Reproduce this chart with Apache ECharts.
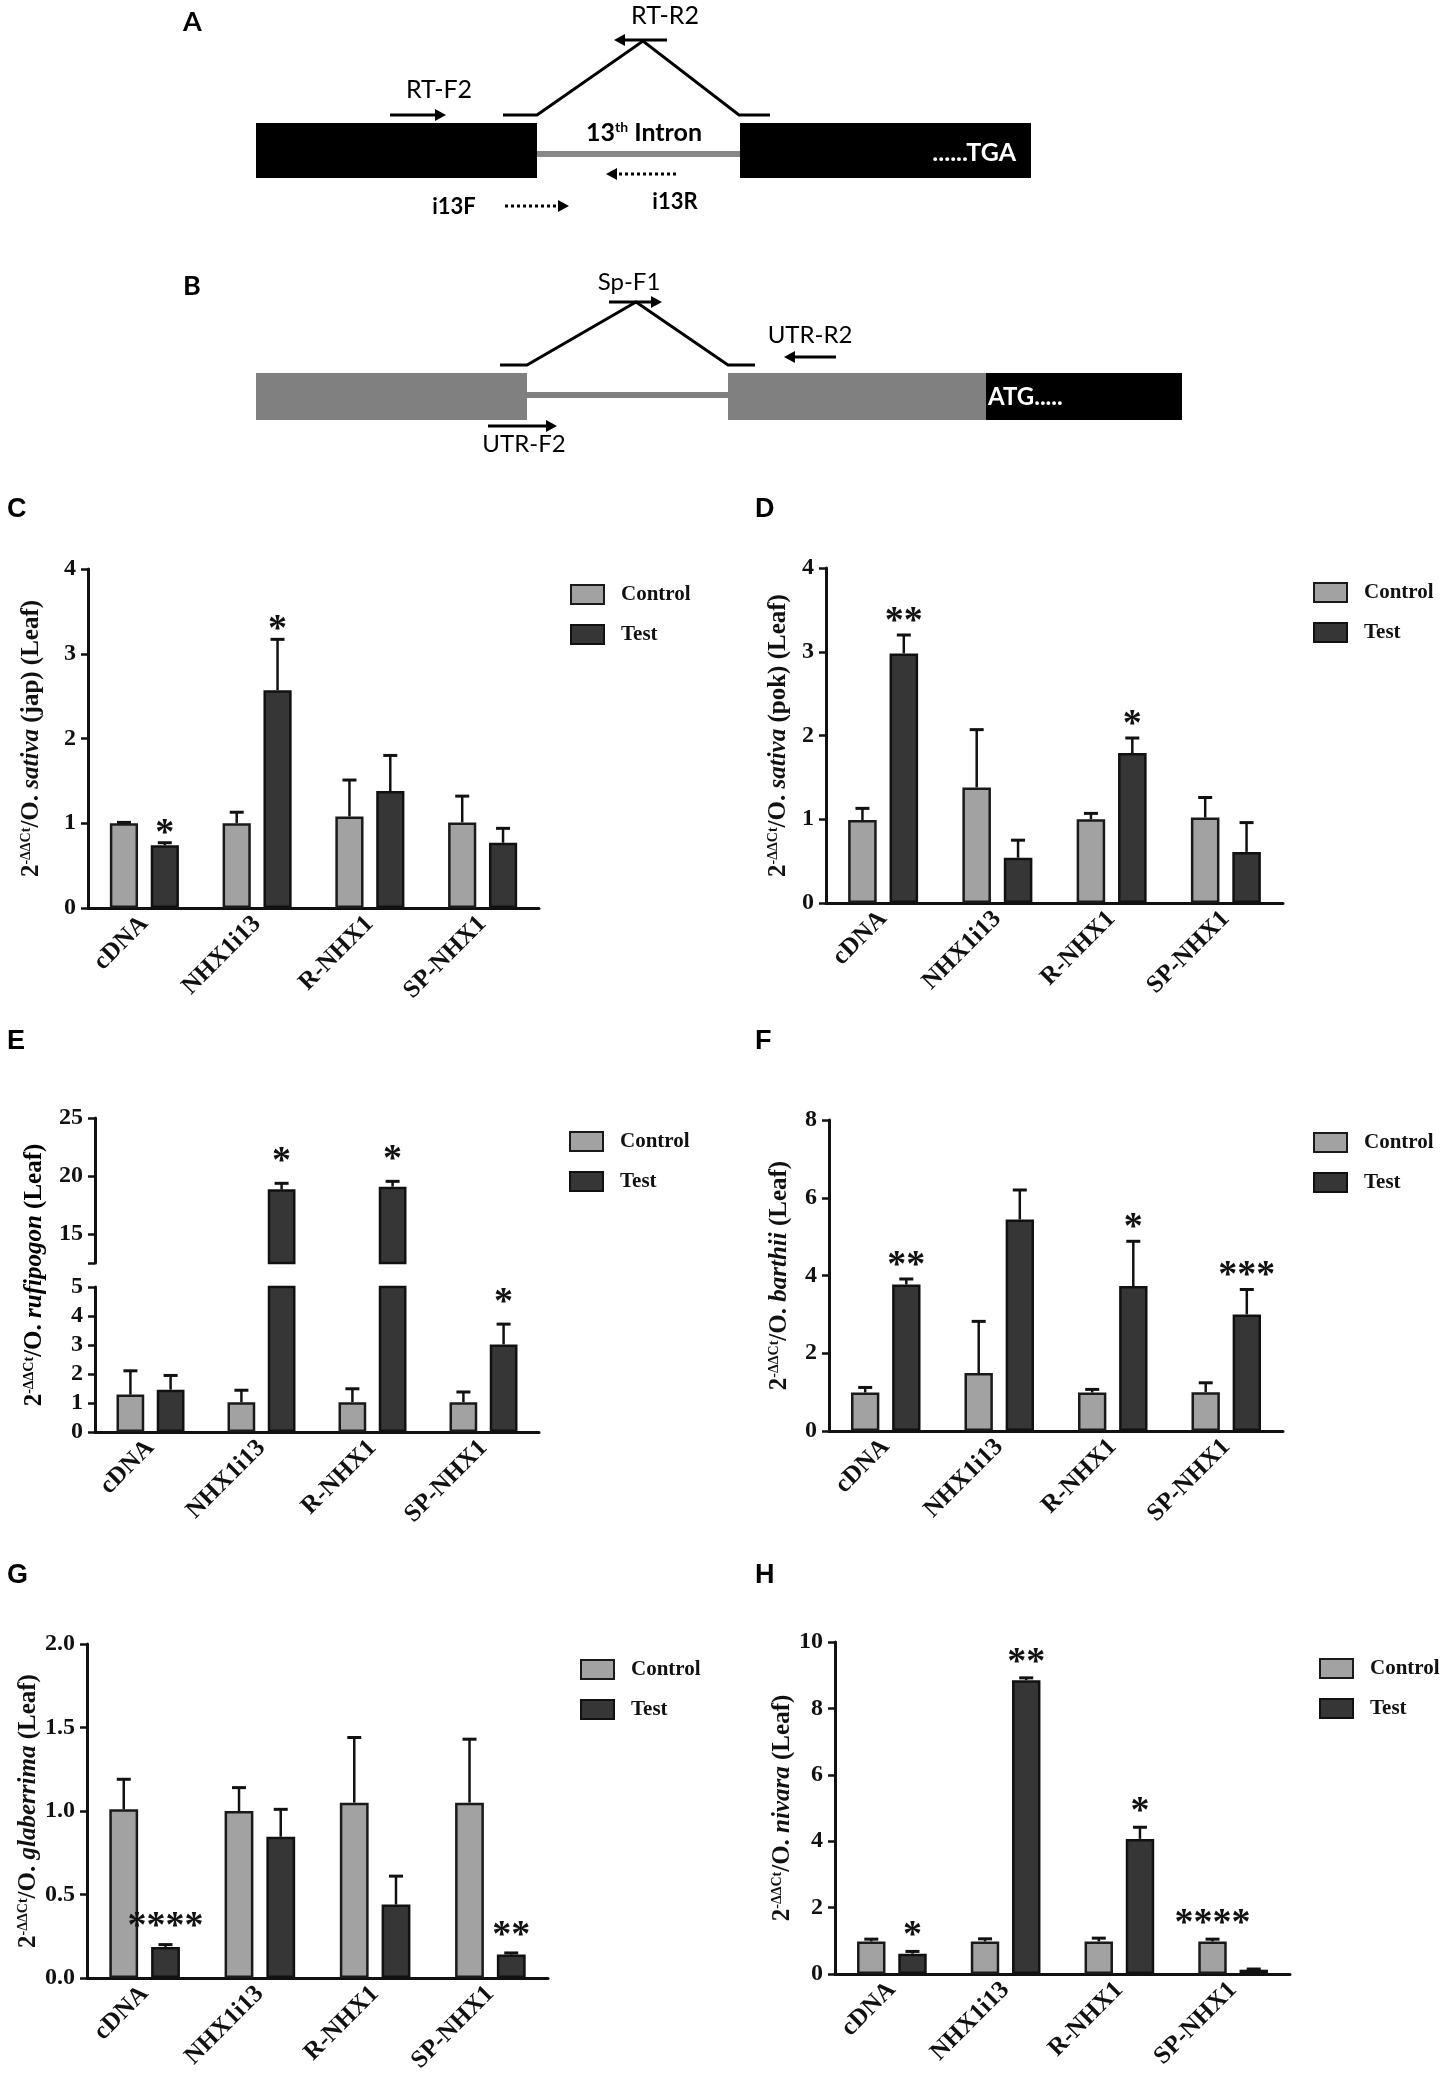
<!DOCTYPE html>
<html>
<head>
<meta charset="utf-8">
<script src="https://cdn.jsdelivr.net/npm/echarts@6/dist/echarts.min.js"></script>
<style>
  html, body { margin: 0; padding: 0; background: #fff; }
  #main { width: 1450px; height: 2079px; }
</style>
</head>
<body>
<div id="main"></div>
<script>
// categories shared by all qPCR panels
const categories = ['cDNA', 'NHX1i13', 'R-NHX1', 'SP-NHX1'];
const noSig = ['', '', '', ''];

// C - O. sativa (jap)
const ctrlC = [1.0, 1.0, 1.08, 1.01];
const ctrlSdC = [0.01, 0.13, 0.43, 0.31];
const testC = [0.74, 2.57, 1.38, 0.77];
const testSdC = [0.03, 0.60, 0.42, 0.17];
const sigTestC = ['*', '*', '', ''];

// D - O. sativa (pok)
const ctrlD = [0.99, 1.38, 1.0, 1.02];
const ctrlSdD = [0.14, 0.69, 0.07, 0.24];
const testD = [2.98, 0.54, 1.79, 0.61];
const testSdD = [0.22, 0.21, 0.18, 0.35];
const sigTestD = ['**', '', '*', ''];

// E - O. rufipogon (broken axis)
const ctrlE = [1.29, 1.03, 1.03, 1.03];
const ctrlSdE = [0.82, 0.41, 0.46, 0.35];
const testE = [1.46, 18.85, 19.08, 3.02];
const testSdE = [0.49, 0.52, 0.46, 0.70];
const sigTestE = ['', '*', '*', '*'];
const upperLabelsE = [15, 20, 25];
const upperTicksE = [12.5, 15, 20, 25];

// F - O. barthii
const ctrlF = [0.99, 1.49, 0.99, 1.0];
const ctrlSdF = [0.13, 1.33, 0.08, 0.24];
const testF = [3.77, 5.44, 3.73, 3.0];
const testSdF = [0.14, 0.76, 1.15, 0.64];
const sigTestF = ['**', '', '*', '***'];

// G - O. glaberrima
const ctrlG = [1.01, 1.0, 1.05, 1.05];
const ctrlSdG = [0.18, 0.14, 0.39, 0.38];
const testG = [0.186, 0.846, 0.44, 0.14];
const testSdG = [0.014, 0.164, 0.17, 0.01];
const sigTestG = ['****', '', '', '**'];

// H - O. nivara
const ctrlH = [0.98, 0.98, 0.98, 0.98];
const ctrlSdH = [0.07, 0.08, 0.10, 0.07];
const testH = [0.61, 8.85, 4.07, 0.13];
const testSdH = [0.07, 0.07, 0.35, 0.02];
const sigCtrlH = ['', '', '', '****'];
const sigTestH = ['*', '**', '*', ''];

const SERIF = "'Liberation Serif', 'Times New Roman', serif";
const SANS = "'Liberation Sans', Arial, sans-serif";
const DIAG = "Lato, 'Open Sans', sans-serif";
const INK = '#111';

function yName(species, tail) {
  return '{n|2}{s|-ΔΔCt}{n|/O. }{i|' + species + '}{n|' + tail + '}';
}
const nameRich = {
  n: { fontFamily: SERIF, fontWeight: 'bold', fontSize: 25, color: INK },
  s: { fontFamily: SERIF, fontWeight: 'bold', fontSize: 14, color: INK, verticalAlign: 'top' },
  i: { fontFamily: SERIF, fontWeight: 'bold', fontStyle: 'italic', fontSize: 25, color: INK }
};

const panels = [
  { label: 'C', labelPos: [7, 510], legend: [570, 584], gap: 16,
    ctrl: ctrlC, ctrlSd: ctrlSdC, test: testC, testSd: testSdC, sig: [noSig, sigTestC],
    name: yName('sativa', ' (jap) (Leaf)'), nameGap: 44,
    parts: [{ grid: { left: 88, top: 569, width: 451, height: 339 }, y: { min: 0, max: 4, interval: 1 }, showX: true }] },
  { label: 'D', labelPos: [755, 510], legend: [1313, 582], gap: 20,
    ctrl: ctrlD, ctrlSd: ctrlSdD, test: testD, testSd: testSdD, sig: [noSig, sigTestD],
    name: yName('sativa', ' (pok) (Leaf)'), nameGap: 35,
    parts: [{ grid: { left: 826, top: 568, width: 457, height: 335 }, y: { min: 0, max: 4, interval: 1 }, showX: true }] },
  { label: 'E', labelPos: [7, 1042], legend: [569, 1131], gap: 28,
    ctrl: ctrlE, ctrlSd: ctrlSdE, test: testE, testSd: testSdE, sig: [noSig, sigTestE],
    name: null,
    parts: [
      { grid: { left: 95, top: 1118, width: 444, height: 145 },
        y: { min: 12.5, max: 25, labels: upperLabelsE, ticks: upperTicksE }, showX: false },
      { grid: { left: 95, top: 1287, width: 444, height: 145 }, y: { min: 0, max: 5, interval: 1 }, showX: true }
    ] },
  { label: 'F', labelPos: [755, 1042], legend: [1313, 1132], gap: 20,
    ctrl: ctrlF, ctrlSd: ctrlSdF, test: testF, testSd: testSdF, sig: [noSig, sigTestF],
    name: yName('barthii', ' (Leaf)'), nameGap: 37,
    parts: [{ grid: { left: 829, top: 1120, width: 454, height: 311 }, y: { min: 0, max: 8, interval: 2 }, showX: true }] },
  { label: 'G', labelPos: [7, 1576], legend: [580, 1659], gap: 24,
    ctrl: ctrlG, ctrlSd: ctrlSdG, test: testG, testSd: testSdG, sig: [noSig, sigTestG],
    name: yName('glaberrima', ' (Leaf)'), nameGap: 41,
    parts: [{ grid: { left: 87, top: 1644, width: 461, height: 334 }, y: { min: 0, max: 2, interval: 0.5, fixed: 1 }, showX: true }] },
  { label: 'H', labelPos: [755, 1576], legend: [1319, 1658], gap: 22,
    ctrl: ctrlH, ctrlSd: ctrlSdH, test: testH, testSd: testSdH, sig: [sigCtrlH, sigTestH],
    name: yName('nivara', ' (Leaf)'), nameGap: 37,
    parts: [{ grid: { left: 835, top: 1642, width: 455, height: 332 }, y: { min: 0, max: 10, interval: 2 }, showX: true }] }
];

// error bars (upper half only) + significance stars
function makeErrRender(sigs, gap) {
  return function (params, api) {
    const i = api.value(0), v = api.value(1), sd = api.value(2), side = api.value(3);
    const cw = api.size([1, 0])[0];
    const x = api.coord([i, v])[0] + (side === 0 ? -1 : 1) * cw * 0.181;
    const y0 = api.coord([i, v])[1];
    const y1 = api.coord([i, v + sd])[1];
    const children = [
      { type: 'line', shape: { x1: x, y1: y0, x2: x, y2: y1 }, style: { stroke: INK, lineWidth: 2.5 } },
      { type: 'line', shape: { x1: x - 7, y1: y1, x2: x + 7, y2: y1 }, style: { stroke: INK, lineWidth: 3 } }
    ];
    const s = sigs[side][i];
    if (s) {
      children.push({ type: 'text', style: { text: s, x: x, y: y1 - gap + 7, align: 'center', verticalAlign: 'middle',
        font: 'bold 38px ' + SERIF, fill: INK } });
    }
    return { type: 'group', children: children };
  };
}

const option = { animation: false, grid: [], xAxis: [], yAxis: [], series: [], legend: [], graphic: { elements: [] } };
const G = option.graphic.elements;
let gi = 0;

panels.forEach(function (p) {
  p.parts.forEach(function (part) {
    option.grid.push(Object.assign({ outerBoundsMode: 'none', containLabel: false }, part.grid));
    option.xAxis.push({
      type: 'category', gridIndex: gi, data: categories, show: part.showX,
      axisLine: { lineStyle: { color: INK, width: 3 } },
      axisTick: { alignWithLabel: true, length: 9, lineStyle: { color: INK, width: 2.5 } },
      axisLabel: { rotate: 45, interval: 0, margin: 12, fontFamily: SERIF, fontWeight: 'bold', fontSize: 25, color: INK },
      splitLine: { show: false }
    });
    const y = part.y;
    const yAxis = {
      type: 'value', gridIndex: gi, min: y.min, max: y.max,
      axisLine: { show: true, lineStyle: { color: INK, width: 3 } },
      axisTick: { show: true, length: 7, lineStyle: { color: INK, width: 2.5 } },
      axisLabel: { margin: 12, fontFamily: SERIF, fontWeight: 'bold', fontSize: 24, color: INK },
      splitLine: { show: false }
    };
    if (y.interval) yAxis.interval = y.interval;
    if (y.fixed) yAxis.axisLabel.formatter = function (v) { return v.toFixed(y.fixed); };
    if (y.labels) {
      yAxis.axisLabel.customValues = y.labels;
      yAxis.axisTick.customValues = y.ticks;
    }
    if (p.name) {
      yAxis.name = p.name;
      yAxis.nameLocation = 'middle';
      yAxis.nameRotate = 90;
      yAxis.nameGap = p.nameGap;
      yAxis.nameTextStyle = { rich: nameRich };
    }
    option.yAxis.push(yAxis);

    option.series.push({
      name: 'Control', type: 'bar', xAxisIndex: gi, yAxisIndex: gi, data: p.ctrl,
      barWidth: '25%', barGap: '45%', clip: true,
      itemStyle: { color: '#a2a2a2', borderColor: '#1a1a1a', borderWidth: 2.5 }
    });
    option.series.push({
      name: 'Test', type: 'bar', xAxisIndex: gi, yAxisIndex: gi, data: p.test,
      barWidth: '25%', barGap: '45%', clip: true,
      itemStyle: { color: '#363636', borderColor: '#111', borderWidth: 2.5 }
    });
    const errData = [];
    categories.forEach(function (c, i) {
      errData.push([i, p.ctrl[i], p.ctrlSd[i], 0]);
      errData.push([i, p.test[i], p.testSd[i], 1]);
    });
    option.series.push({
      name: 'err' + p.label, type: 'custom', xAxisIndex: gi, yAxisIndex: gi, clip: true, z: 5,
      encode: { x: 0, y: 1 }, data: errData, renderItem: makeErrRender(p.sig, p.gap)
    });
    gi++;
  });

  option.legend.push({
    orient: 'vertical', left: p.legend[0], top: p.legend[1], padding: 0,
    itemWidth: 33, itemHeight: 19, itemGap: 19, icon: 'rect', selectedMode: false,
    data: ['Control', 'Test'],
    textStyle: { fontFamily: SERIF, fontWeight: 'bold', fontSize: 21, color: INK, padding: [0, 0, 0, 12] }
  });

  G.push({ type: 'text', x: p.labelPos[0], y: p.labelPos[1], silent: true,
    style: { text: p.label, font: 'bold 27px ' + SANS, fill: '#000', verticalAlign: 'middle' } });
});

// rotated y title for the broken-axis panel E
G.push({ type: 'text', x: 35, y: 1275, rotation: Math.PI / 2, silent: true,
  style: { text: yName('rufipogon', ' (Leaf)'), rich: nameRich, align: 'center', verticalAlign: 'middle' } });

// ---- gene structure diagrams A and B ----
function rect(x, y, w, h, fill) {
  return { type: 'rect', silent: true, shape: { x: x, y: y, width: w, height: h }, style: { fill: fill } };
}
function txt(s, x, y, size, weight, fill, align) {
  return { type: 'text', silent: true, x: x, y: y,
    style: { text: s, font: (weight || 'normal') + ' ' + size + 'px ' + DIAG, fill: fill || '#000',
      align: align || 'center', verticalAlign: 'middle' } };
}
function arrow(x1, x2, y, dashed) {
  const dir = x2 > x1 ? 1 : -1, hl = 11, hw = 6;
  return [
    { type: 'line', silent: true, shape: { x1: x1, y1: y, x2: x2 - dir * hl, y2: y },
      style: { stroke: '#000', lineWidth: 3, lineDash: dashed ? [3, 3] : null } },
    { type: 'polygon', silent: true, shape: { points: [[x2, y], [x2 - dir * hl, y - hw], [x2 - dir * hl, y + hw]] },
      style: { fill: '#000' } }
  ];
}
function junction(pts) {
  return { type: 'polyline', silent: true, shape: { points: pts }, style: { stroke: '#000', lineWidth: 3, fill: null } };
}

G.push(txt('A', 183, 22, 27, 'bold', '#000', 'left'));
G.push(rect(256, 123, 281, 55, '#000'));
G.push(rect(537, 151, 203, 6, '#888'));
G.push(rect(740, 123, 291, 55, '#000'));
G.push(txt('......TGA', 1016, 153, 25, 'bold', '#fff', 'right'));
G.push({ type: 'text', silent: true, x: 644, y: 133,
  style: { text: '{a|13}{b|th}{a| Intron}', align: 'center', verticalAlign: 'middle',
    rich: { a: { fontFamily: DIAG, fontWeight: 'bold', fontSize: 25, fill: '#000' },
            b: { fontFamily: DIAG, fontWeight: 'bold', fontSize: 14, fill: '#000', verticalAlign: 'top' } } } });
G.push(junction([[503, 115], [537, 115], [643, 41], [739, 115], [770, 115]]));
G.push.apply(G, arrow(667, 614, 40, false));
G.push(txt('RT-R2', 665, 16, 25));
G.push(txt('RT-F2', 439, 90, 25));
G.push.apply(G, arrow(390, 446, 115, false));
G.push(txt('i13F', 454, 207, 22, 'bold'));
G.push.apply(G, arrow(505, 569, 206, true));
G.push.apply(G, arrow(676, 606, 174, true));
G.push(txt('i13R', 675, 202, 22, 'bold'));

G.push(txt('B', 183, 286, 27, 'bold', '#000', 'left'));
G.push(rect(256, 373, 271, 47, '#808080'));
G.push(rect(527, 392, 201, 6, '#808080'));
G.push(rect(728, 373, 258, 47, '#808080'));
G.push(rect(986, 373, 196, 47, '#000'));
G.push(txt('ATG.....', 988, 397, 24, 'bold', '#fff', 'left'));
G.push(junction([[500, 365], [527, 365], [636, 302], [728, 365], [755, 365]]));
G.push.apply(G, arrow(609, 662, 302, false));
G.push(txt('Sp-F1', 629, 282, 24));
G.push(txt('UTR-R2', 810, 335, 24));
G.push.apply(G, arrow(836, 784, 357, false));
G.push.apply(G, arrow(488, 557, 426, false));
G.push(txt('UTR-F2', 524, 444, 24));

const chart = echarts.init(document.getElementById('main'), null, { renderer: 'canvas' });
chart.setOption(option);
</script>
</body>
</html>
